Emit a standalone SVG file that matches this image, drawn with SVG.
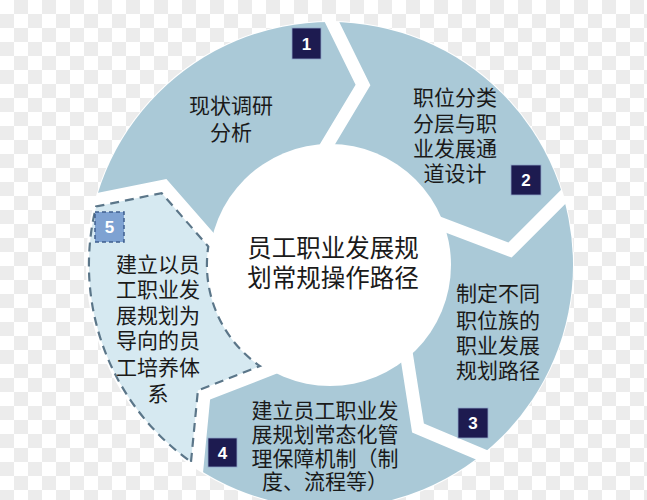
<svg xmlns="http://www.w3.org/2000/svg" width="647" height="500" viewBox="0 0 647 500">
<defs>
<pattern id="chk" width="28" height="28" patternUnits="userSpaceOnUse">
<rect width="28" height="28" fill="#ffffff"/>
<rect x="14" y="0" width="14" height="14" fill="#ececec"/>
<rect x="0" y="14" width="14" height="14" fill="#ececec"/>
</pattern>
<clipPath id="ring"><circle cx="330" cy="265" r="243"/></clipPath>
<style>
.seg{fill:#aac9d7}
.seg5{fill:#d6e9f1;stroke:#5b7689;stroke-width:2.2;stroke-dasharray:9 6}
.t{font-family:"Noto Sans CJK SC","Noto Sans",sans-serif;font-size:21px;fill:#1a1a1a;text-anchor:middle}
.tc{font-family:"Noto Sans CJK SC","Noto Sans",sans-serif;font-size:24.5px;fill:#1a1a1a;text-anchor:middle}
.box{fill:#1d1b50;stroke:#8fa6c8;stroke-width:0.8}
.box5{fill:#7ea2d2;stroke:#3f5f8e;stroke-width:1.5;stroke-dasharray:4 3}
.num{font-family:"Liberation Sans",Arial,sans-serif;font-size:17px;font-weight:bold;fill:#ffffff;text-anchor:middle}
</style>
</defs>
<rect width="647" height="500" fill="url(#chk)"/>
<circle cx="330" cy="265" r="244" fill="#ffffff"/>
<g id="connectors"></g>
<g clip-path="url(#ring)">
<g id="seg1">
<polygon class="seg" points="330,265 230.1,251.8 166.4,178.9 76.1,197.2 -56.4,161.5 78.3,-45.8 309.1,-134.5 317.2,6.7 355.6,84.7 314.1,153.8"/>
</g>
<g id="seg2">
<polygon class="seg" points="330,265 325.3,160.5 370.4,85.3 328.9,1.0 330,-135 559.4,-62.7 705.9,128.2 571.1,179.7 508.4,242.4 427.6,211.8"/>
</g>
<g id="seg3">
<polygon class="seg" points="330,265 423.0,224.0 511.6,257.6 580.3,188.9 712.5,148.0 716.4,368.5 597.6,562.2 501.1,456.0 423.9,423.4 410.3,337.2"/>
</g>
<g id="seg4">
<polygon class="seg" points="330,265 397.5,339.2 412.1,432.6 496.1,468.0 581.7,575.8 364.9,663.5 130,611.4 201.8,485.5 210.1,399.6 289.0,368.8"/>
</g>
</g>
<g id="center">
<circle cx="330" cy="265" r="121" fill="#ffffff"/>
<text class="tc" x="333" y="257">员工职业发展规</text>
<text class="tc" x="333" y="287">划常规操作路径</text>
</g>
<g id="seg5">
<path class="seg5" d="M191,461.8 L197.9,390.4 L260,366.1 A123 123 0 0 1 208.3,246.5 L161.6,193.1 L96.1,206.5 A241 241 0 0 0 191,461.8 Z"/>
</g>
<g id="label1">
<rect class="box" x="292" y="28" width="29" height="31"/>
<text class="num" x="306.5" y="49.5">1</text>
<text class="t" x="231" y="113">现状调研</text>
<text class="t" x="231" y="140">分析</text>
</g>
<g id="label2">
<rect class="box" x="511" y="165" width="30" height="30"/>
<text class="num" x="526" y="186">2</text>
<text class="t" x="455" y="105">职位分类</text>
<text class="t" x="455" y="131">分层与职</text>
<text class="t" x="455" y="156">业发展通</text>
<text class="t" x="455" y="181">道设计</text>
</g>
<g id="label3">
<rect class="box" x="458" y="408" width="30" height="30"/>
<text class="num" x="473" y="429">3</text>
<text class="t" x="498" y="301">制定不同</text>
<text class="t" x="498" y="328">职位族的</text>
<text class="t" x="498" y="353">职业发展</text>
<text class="t" x="498" y="378">规划路径</text>
</g>
<g id="label4">
<rect class="box" x="208" y="438" width="29" height="29"/>
<text class="num" x="222.5" y="458.5">4</text>
<text class="t" x="325" y="418">建立员工职业发</text>
<text class="t" x="325" y="442">展规划常态化管</text>
<text class="t" x="325" y="466">理保障机制（制</text>
<text class="t" x="325" y="489">度、流程等）</text>
</g>
<g id="label5">
<rect class="box5" x="95" y="212" width="29" height="30"/>
<text class="num" x="109.5" y="233" fill="#eef3fa">5</text>
<text class="t" x="158" y="272">建立以员</text>
<text class="t" x="158" y="297">工职业发</text>
<text class="t" x="158" y="323">展规划为</text>
<text class="t" x="158" y="348">导向的员</text>
<text class="t" x="158" y="375">工培养体</text>
<text class="t" x="158" y="401">系</text>
</g>
</svg>
